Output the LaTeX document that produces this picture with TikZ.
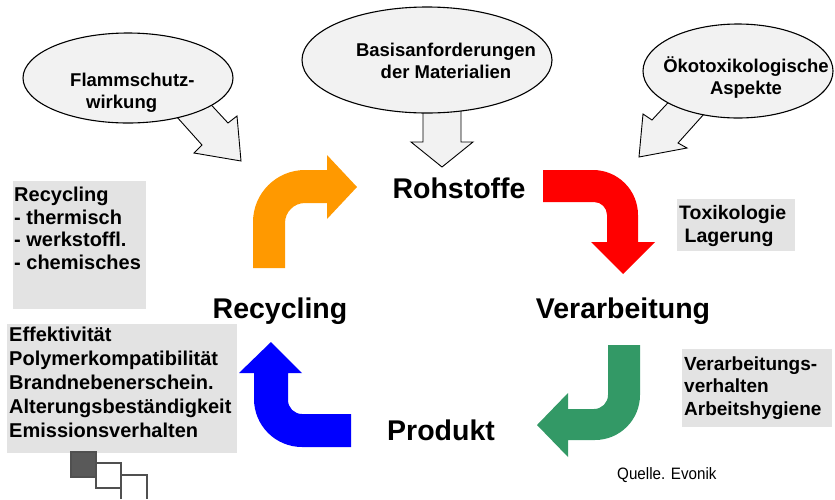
\documentclass[tikz,border=0pt]{standalone}
\usepackage{fontspec}
\setmainfont{Liberation Sans}
\newfontfamily\narrowfont[FakeStretch=0.92]{Liberation Sans}
\usetikzlibrary{shapes.geometric}

\definecolor{bubblegray}{RGB}{242,242,242}
\definecolor{boxgray}{RGB}{227,227,227}
\definecolor{arroworange}{RGB}{255,153,0}
\definecolor{arrowred}{RGB}{255,0,0}
\definecolor{arrowgreen}{RGB}{51,153,102}
\definecolor{arrowblue}{RGB}{0,0,255}
\definecolor{squaredark}{RGB}{89,89,89}
\definecolor{squareline}{RGB}{80,80,80}

\begin{document}
\begin{tikzpicture}[x=1pt, y=1pt,
	bubble/.style={ellipse, draw=black, fill=bubblegray, line width=1.1pt, inner sep=0pt},
	inflow/.style={draw=black, fill=bubblegray, line width=0.9pt, line join=miter},
	bubbletext/.style={inner sep=0pt, font=\bfseries\fontsize{18.5}{22}\selectfont},
	stage/.style={anchor=base, inner sep=0pt, font=\bfseries\fontsize{28.5}{32}\selectfont},
	greybox/.style={fill=boxgray, inner sep=0pt, anchor=north west},
	boxtext/.style={align=left, anchor=base west, inner sep=0pt},
	square/.style={draw=squareline, line width=1.6pt}]

	\useasboundingbox (0,0) rectangle (835,-499);

	\draw [inflow] (168,-107) -- (202,-145) -- (194,-153) -- (241,-161) -- (237,-116) -- (228,-123) -- (203,-96) -- cycle;
	\draw [inflow] (423,-100) -- (423,-142) -- (411,-142) -- (442,-167) -- (473,-142) -- (461,-142) -- (461,-100) -- cycle;
	\draw [inflow] (677,-93) -- (652,-120) -- (643,-114) -- (639,-157) -- (687,-148) -- (678,-143) -- (713,-104) -- cycle;

	\node at (128,-78) [bubble, minimum width=210, minimum height=90] (flammshape) {};
	\node at (427,-60) [bubble, minimum width=250, minimum height=106] (basisshape) {};
	\node at (738,-71) [bubble, minimum width=190, minimum height=94] (oekoshape) {};

	\node at (70,-108) [bubbletext, align=left, anchor=base west] (flamm) {Flammschutz-\\\hspace*{16pt}wirkung};
	\node at (446,-78) [bubbletext, align=center, anchor=base] (basis) {Basisanforderungen\\der Materialien};
	\node at (746,-94) [bubbletext, align=center, anchor=base] (oeko) {Ökotoxikologische\\Aspekte};

	\fill [arroworange] (253,-268) -- (253,-222) arc [start angle=180, end angle=90, radius=52] -- (327,-170) -- (327,-155) -- (357,-187) -- (327,-219) -- (327,-203) -- (305,-203) arc [start angle=90, end angle=180, radius=20] -- (285,-268) -- cycle;
	\fill [arrowred] (543,-170) -- (593,-170) arc [start angle=90, end angle=0, radius=45] -- (638,-242) -- (655,-242) -- (623,-274) -- (591,-242) -- (607,-242) -- (607,-215) arc [start angle=0, end angle=90, radius=13] -- (543,-202) -- cycle;
	\fill [arrowgreen] (608,-345) -- (640,-345) -- (640,-395) arc [start angle=0, end angle=-90, radius=45] -- (568,-440) -- (568,-457) -- (537,-425) -- (568,-393) -- (568,-409) -- (594,-409) arc [start angle=-90, end angle=0, radius=14] -- cycle;
	\fill [arrowblue] (351,-414) -- (302,-414) arc [start angle=-90, end angle=-180, radius=14] -- (288,-373) -- (302,-373) -- (271,-342) -- (239,-373) -- (254,-373) -- (254,-399) arc [start angle=180, end angle=270, radius=48] -- (351,-447) -- cycle;

	\node at (459,-198) [stage] (rohstoffe) {Rohstoffe};
	\node at (623,-318) [stage] (verarbeitung) {Verarbeitung};
	\node at (441,-440) [stage] (produkt) {Produkt};
	\node at (280,-318) [stage] (recycling) {Recycling};

	\node at (13,-181) [greybox, minimum width=133, minimum height=128] (recbox) {};
	\node at (677,-199) [greybox, minimum width=118, minimum height=52] (toxbox) {};
	\node at (682,-349) [greybox, minimum width=150, minimum height=78] (verbox) {};
	\node at (7,-324) [greybox, minimum width=230, minimum height=129] (effbox) {};

	\node at (14,-269) [boxtext, font=\bfseries\fontsize{20}{22.5}\selectfont] (recyc) {Recycling\\- thermisch\\- werkstoffl.\\- chemisches};
	\node at (679,-242) [boxtext, font=\bfseries\fontsize{19.5}{23}\selectfont] (toxi) {Toxikologie\\\hspace*{5.5pt}Lagerung};
	\node at (684,-415) [boxtext, font=\bfseries\fontsize{19}{22.5}\selectfont] (verhalten) {Verarbeitungs-\\verhalten\\Arbeitshygiene};
	\node at (9,-437) [boxtext, font=\bfseries\fontsize{20}{23.8}\selectfont] (effekt) {Effektivität\\Polymerkompatibilität\\Brandnebenerschein.\\Alterungsbeständigkeit\\Emissionsverhalten};

	\draw [square, fill=squaredark] (71,-452) rectangle (96,-477);
	\draw [square, fill=white] (96,-463) rectangle (121,-488);
	\draw [square] (121,-499) -- (121,-475) -- (147,-475) -- (147,-499);

	\node at (617,-479) [anchor=base west, inner sep=0pt, font=\narrowfont\fontsize{16.5}{18}\selectfont] (quelle) {Quelle. Evonik};
\end{tikzpicture}
\end{document}
